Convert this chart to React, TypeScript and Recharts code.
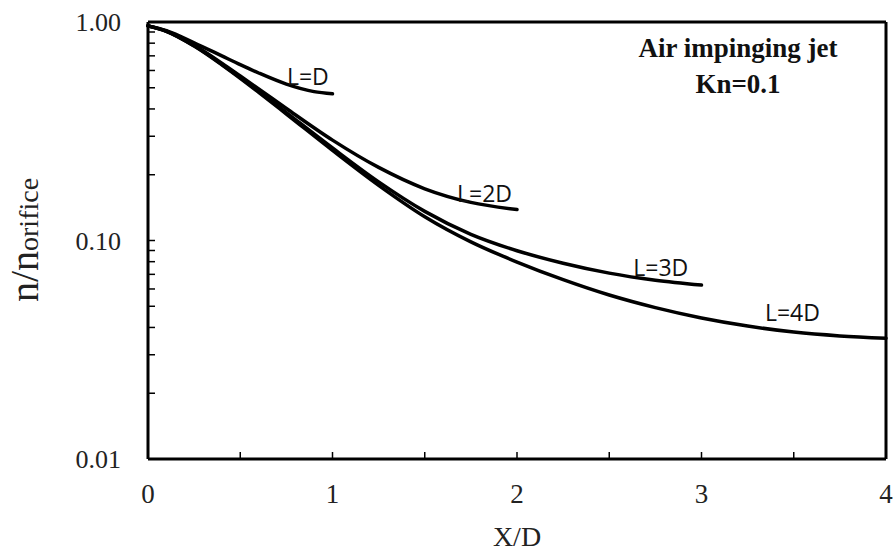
import React from 'react';
import { LineChart, Line, XAxis, YAxis, ReferenceLine, ReferenceDot } from 'recharts';

const xLD = [0, 0.1, 0.25, 0.4, 0.5, 0.6, 0.75, 0.9, 1.0];
const yLD = [0.96, 0.9127, 0.8033, 0.6997, 0.638, 0.5843, 0.5197, 0.48, 0.4692];

const xL2D = [0, 0.1, 0.25, 0.4, 0.5, 0.6, 0.75, 1.0, 1.25, 1.5, 1.75, 2.0];
const yL2D = [0.96, 0.908, 0.782, 0.648, 0.566, 0.494, 0.402, 0.288, 0.216, 0.1725, 0.1494, 0.1386];

const xL3D = [0, 0.1, 0.25, 0.4, 0.5, 0.6, 0.75, 1.0, 1.25, 1.5, 1.75, 2.0, 2.25, 2.5, 2.75, 3.0];
const yL3D = [0.96, 0.907, 0.778, 0.641, 0.557, 0.482, 0.385, 0.265, 0.1854, 0.1359, 0.1067, 0.0898, 0.0787, 0.0709, 0.0658, 0.0625];

const xL4D = [0, 0.1, 0.25, 0.4, 0.5, 0.6, 0.75, 1.0, 1.25, 1.5, 1.75, 2.0, 2.25, 2.5, 2.75, 3.0, 3.25, 3.5, 3.75, 4.0];
const yL4D = [0.96, 0.906, 0.776, 0.637, 0.5524, 0.4763, 0.3792, 0.2585, 0.1789, 0.1285, 0.0986, 0.0797, 0.0662, 0.0563, 0.0493, 0.0442, 0.0406, 0.0381, 0.0366, 0.0357];

const xTicks = [0, 0.5, 1, 1.5, 2, 2.5, 3, 3.5, 4];
const yTicks = [0.01, 0.02, 0.03, 0.04, 0.05, 0.06, 0.07, 0.08, 0.09, 0.1, 0.2, 0.3, 0.4, 0.5, 0.6, 0.7, 0.8, 0.9, 1];
const yMajor = [0.01, 0.1, 1];

const seriesLabels = [
  { text: 'L=D', x: 0.753, y: 0.515 },
  { text: 'L=2D', x: 1.675, y: 0.1507 },
  { text: 'L=3D', x: 2.63, y: 0.0685 },
  { text: 'L=4D', x: 3.344, y: 0.0427 },
];
const titleLines = ['Air impinging jet', 'Kn=0.1'];
const titlePos = { x: 3.198, y: 0.692 };

const zip = (xs: number[], ys: number[]) => xs.map((x, i) => ({ x, y: ys[i] }));
const dLD = zip(xLD, yLD);
const dL2D = zip(xL2D, yL2D);
const dL3D = zip(xL3D, yL3D);
const dL4D = zip(xL4D, yL4D);

const SERIF = '"Liberation Serif", "Times New Roman", serif';
const SANS = '"Open Sans", "Noto Sans", sans-serif';

const YTick = (props: any) => {
  const { x, y, payload } = props;
  const v = payload.value;
  const isMajor = yMajor.some((m) => Math.abs(m - v) < 1e-9);
  return (
    <g>
      {v > 0.011 && v < 0.99 && (
        <line x1={x} y1={y} x2={x + 7} y2={y} stroke="#000" strokeWidth={1.5} />
      )}
      {isMajor && (
        <text x={x - 27} y={y + 9} textAnchor="end" fontFamily={SERIF} fontSize={26} fill="#222">
          {v.toFixed(2)}
        </text>
      )}
    </g>
  );
};

const XTick = (props: any) => {
  const { x, y, payload } = props;
  const v = payload.value;
  const isInt = Math.abs(v - Math.round(v)) < 1e-9;
  return (
    <g>
      {v > 0.01 && v < 3.99 && (
        <line x1={x} y1={y} x2={x} y2={y - 7} stroke="#000" strokeWidth={1.5} />
      )}
      {isInt && (
        <text x={x} y={y + 44} textAnchor="middle" fontFamily={SERIF} fontSize={27} fill="#222">
          {String(v)}
        </text>
      )}
    </g>
  );
};

const XTitle = (props: any) => {
  const vb = props.viewBox || {};
  return (
    <text x={vb.x + vb.width / 2} y={vb.y + 87} textAnchor="middle" fontFamily={SERIF} fontSize={28} fill="#222">
      X/D
    </text>
  );
};

const YTitle = () => {
  const cx = 38;
  const cy = 240;
  return (
    <text x={cx} y={cy} transform={`rotate(-90, ${cx}, ${cy})`} textAnchor="middle" fontFamily={SERIF} fill="#222">
      <tspan fontSize={40}>n/n</tspan>
      <tspan fontSize={28}>orifice</tspan>
    </text>
  );
};

export default function App() {
  return (
    <div style={{ position: 'absolute', left: 0, top: 0, width: 893, height: 554, overflow: 'hidden', background: '#fff' }}>
      <LineChart width={893} height={554} margin={{ top: 22, right: 7, left: 0, bottom: 0 }}>
        <XAxis
          dataKey="x"
          type="number"
          domain={[0, 4]}
          ticks={xTicks}
          interval={0}
          tickSize={0}
          tickMargin={0}
          height={95}
          axisLine={{ stroke: '#000', strokeWidth: 3 }}
          tickLine={false}
          tick={<XTick />}
          label={<XTitle />}
          allowDuplicatedCategory={false}
        />
        <YAxis
          type="number"
          scale="log"
          domain={[0.01, 1]}
          ticks={yTicks}
          interval={0}
          tickSize={0}
          tickMargin={0}
          width={148}
          axisLine={{ stroke: '#000', strokeWidth: 3 }}
          tickLine={false}
          tick={<YTick />}
          label={<YTitle />}
          allowDataOverflow
        />
        <ReferenceLine y={1} stroke="#000" strokeWidth={3} />
        <ReferenceLine x={4} stroke="#000" strokeWidth={3} />
        <Line data={dLD} dataKey="y" type="monotone" stroke="#000" strokeWidth={3.5} dot={false} isAnimationActive={false} strokeLinecap="round" />
        <Line data={dL2D} dataKey="y" type="monotone" stroke="#000" strokeWidth={3.5} dot={false} isAnimationActive={false} strokeLinecap="round" />
        <Line data={dL3D} dataKey="y" type="monotone" stroke="#000" strokeWidth={3.5} dot={false} isAnimationActive={false} strokeLinecap="round" />
        <Line data={dL4D} dataKey="y" type="monotone" stroke="#000" strokeWidth={3.5} dot={false} isAnimationActive={false} strokeLinecap="round" />
        {seriesLabels.map((l) => (
          <ReferenceDot
            key={l.text}
            x={l.x}
            y={l.y}
            r={0}
            shape={(p: any) => (
              <text x={p.cx} y={p.cy} textAnchor="start" fontFamily={SANS} fontSize={23} fill="#111">
                {l.text}
              </text>
            )}
          />
        ))}
        <ReferenceDot
          x={titlePos.x}
          y={titlePos.y}
          r={0}
          shape={(p: any) => (
            <g>
              {titleLines.map((t, i) => (
                <text key={t} x={p.cx} y={p.cy + i * 36} textAnchor="middle" fontFamily={SERIF} fontWeight="bold" fontSize={27} fill="#111">
                  {t}
                </text>
              ))}
            </g>
          )}
        />
      </LineChart>
    </div>
  );
}
